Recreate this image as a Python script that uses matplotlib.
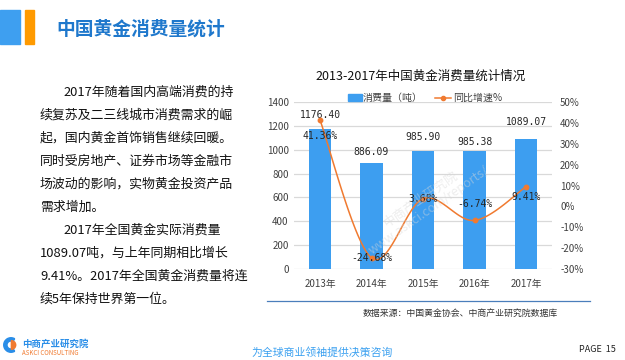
"""中国黄金消费量统计 slide: bar + smoothed growth line."""
import numpy as np
import matplotlib
matplotlib.use('Agg')
import matplotlib.pyplot as plt
from matplotlib.patches import Rectangle, Wedge
from matplotlib.lines import Line2D

plt.rcParams['font.family'] = ['Noto Sans CJK SC', 'DejaVu Sans']

# data
years = ['2013年', '2014年', '2015年', '2016年', '2017年']
consumption = [1176.40, 886.09, 985.90, 985.38, 1089.07]
growth = [41.36, -24.68, 3.68, -6.74, 9.41]
left_ticks = [0, 200, 400, 600, 800, 1000, 1200, 1400]
right_ticks = [-30, -20, -10, 0, 10, 20, 30, 40, 50]

body_lines = [
    '2017年随着国内高端消费的持',
    '续复苏及二三线城市消费需求的崛',
    '起，国内黄金首饰销售继续回暖。',
    '同时受房地产、证券市场等金融市',
    '场波动的影响，实物黄金投资产品',
    '需求增加。',
    '2017年全国黄金实际消费量',
    '1089.07吨，与上年同期相比增长',
    '9.41%。2017年全国黄金消费量将连',
    '续5年保持世界第一位。',
]

W, H = 625, 360
BLUE = '#3d9ef0'
ORANGE = '#f07a30'


def fx(x):
    return x / W


def fy(y):
    return 1 - y / H


fig = plt.figure(figsize=(W / 100, H / 100), dpi=100)

# header
fig.patches.append(Rectangle((fx(0), fy(44)), 20 / W, 34 / H,
                             transform=fig.transFigure, color='#3e9ff0'))
fig.patches.append(Rectangle((fx(25), fy(44)), 9 / W, 34 / H,
                             transform=fig.transFigure, color='#ff9a00'))
fig.text(fx(56), fy(29), '中国黄金消费量统计', fontsize=13.5, fontweight='bold',
         color='#1f78cc', va='center', ha='left')

# body text
line_y = [92, 115, 138, 161, 184, 207, 230, 253, 276, 299]
indent = [63, 40, 40, 40, 40, 40, 63, 40, 40, 40]
for txt, y, x in zip(body_lines, line_y, indent):
    fig.text(fx(x), fy(y), txt, fontsize=9.3, color='#111111',
             va='center', ha='left')

# chart
ax = fig.add_axes([fx(294.25), fy(269), 257.5 / W, 167 / H])
x = np.arange(len(years))
ax.bar(x, consumption, width=0.43, color=BLUE, zorder=2)
ax.set_xlim(-0.5, 4.5)
ax.set_ylim(0, 1400)
ax.set_yticks(left_ticks)
ax.set_xticks(x)
ax.set_xticklabels(years)
ax.grid(axis='y', color='#d9d9d9', linewidth=0.9, zorder=0)
for s in ax.spines.values():
    s.set_visible(False)
ax.tick_params(length=0, labelsize=7, colors='#404040', pad=4)
ax.tick_params(axis='x', pad=7)

bar_offsets = [9, 6, 9, 4, 12]
for xi, v, off in zip(x, consumption, bar_offsets):
    ax.annotate(f'{v:.2f}', (xi, v), xytext=(0, off), textcoords='offset pixels',
                ha='center', va='bottom', fontsize=7, color='#262626',
                family='DejaVu Sans Mono', zorder=5)

ax2 = ax.twinx()
ax2.set_ylim(-30, 50)
ax2.set_yticks(right_ticks)
ax2.set_yticklabels([f'{t}%' for t in right_ticks])
for s in ax2.spines.values():
    s.set_visible(False)
ax2.tick_params(length=0, labelsize=7, colors='#404040', pad=6)

# smooth curve (Catmull-Rom in pixel space, like a spreadsheet "smooth line")
sx, sy = 51.5, 167 / 80
P = np.column_stack([x * sx, np.array(growth) * sy])
Pe = np.vstack([P[0], P, P[-1]])
curve = []
t = np.linspace(0, 1, 30)[:, None]
for i in range(len(P) - 1):
    p0, p1, p2, p3 = Pe[i], Pe[i + 1], Pe[i + 2], Pe[i + 3]
    c1 = p1 + (p2 - p0) / 6
    c2 = p2 - (p3 - p1) / 6
    seg = ((1 - t) ** 3) * p1 + 3 * ((1 - t) ** 2) * t * c1 + 3 * (1 - t) * t ** 2 * c2 + t ** 3 * p2
    curve.append(seg)
curve = np.vstack(curve)
ax2.plot(curve[:, 0] / sx, curve[:, 1] / sy, color=ORANGE, linewidth=1.1, zorder=3)
ax2.plot(x, growth, 'o', color=ORANGE, markersize=3.2, zorder=4)

line_offsets = [-16, 0, 0, 16, -10]
for xi, v, off in zip(x, growth, line_offsets):
    ax2.annotate(f'{v:.2f}%', (xi, v), xytext=(0, off), textcoords='offset pixels',
                 ha='center', va='center', fontsize=7, color='#262626',
                 family='DejaVu Sans Mono', zorder=5)

# faint watermark over the chart
fig.text(fx(425), fy(205), '中商产业研究院\nwww.askci.com/reports/', fontsize=9,
         color='#d8d8d8', alpha=0.45, rotation=35, ha='center', va='center',
         linespacing=1.1, zorder=10)

# chart title and legend
fig.text(fx(421), fy(76), '2013-2017年中国黄金消费量统计情况', fontsize=9,
         color='#111111', ha='center', va='center')
fig.patches.append(Rectangle((fx(348), fy(101)), 14 / W, 7 / H,
                             transform=fig.transFigure, color=BLUE))
fig.text(fx(363), fy(97.5), '消费量（吨）', fontsize=7.2, color='#404040',
         ha='left', va='center')
fig.lines.append(Line2D([fx(435), fx(451)], [fy(97.5), fy(97.5)],
                        transform=fig.transFigure, color=ORANGE, linewidth=1.1))
fig.lines.append(Line2D([fx(443)], [fy(97.5)], transform=fig.transFigure,
                        marker='o', markersize=3, color=ORANGE))
fig.text(fx(453), fy(97.5), '同比增速%', fontsize=7.2, color='#404040',
         ha='left', va='center')

# rule + source
fig.lines.append(Line2D([fx(267), fx(590)], [fy(301), fy(301)],
                        transform=fig.transFigure, color='#4a7ebb', linewidth=0.9))
fig.text(fx(460), fy(313), '数据来源：中国黄金协会、中商产业研究院数据库',
         fontsize=6.4, color='#333333', ha='center', va='center')

# footer
lax = fig.add_axes([fx(3), fy(353), 16 / W, 16 / H])
lax.set_aspect('equal')
lax.set_xlim(-1.1, 1.1)
lax.set_ylim(-1.1, 1.1)
lax.axis('off')
lax.add_patch(Wedge((0, 0), 1, 60, 300, width=0.45, color='#2a8ee8'))
lax.add_patch(Wedge((0.05, 0), 0.6, -90, 90, color='#f07a30'))
fig.text(fx(22), fy(344), '中商产业研究院', fontsize=6.8, fontweight='bold',
         color='#2a8ee8', ha='left', va='center')
fig.text(fx(22), fy(353), 'ASKCI CONSULTING', fontsize=4.4, color='#f07a30',
         ha='left', va='center')
fig.text(fx(322), fy(352), '为全球商业领袖提供决策咨询', fontsize=7.8,
         color='#3aa0f0', style='italic', ha='center', va='center')
fig.text(fx(597), fy(350), 'PAGE  15', fontsize=6.5, color='#222222',
         ha='center', va='center')

fig.savefig('out.png', dpi=100)
